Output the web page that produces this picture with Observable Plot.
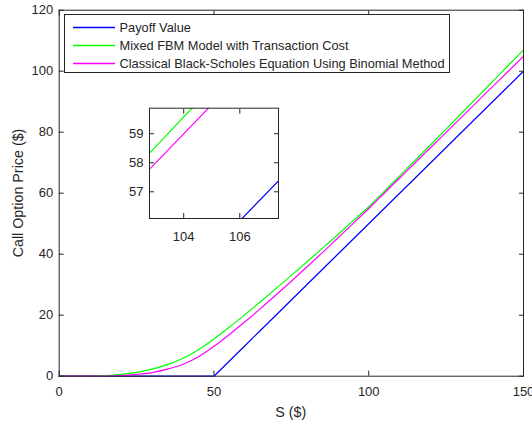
<!DOCTYPE html>
<html><head><meta charset="utf-8">
<script src="https://cdn.jsdelivr.net/npm/d3@7"></script>
<script src="https://cdn.jsdelivr.net/npm/@observablehq/plot@0.6"></script>
<style>
body{margin:0;background:#fff;}
#wrap{position:relative;width:532px;height:425px;font-family:"Liberation Sans",Arial,sans-serif;color:#262626;overflow:hidden;}
#wrap > svg{position:absolute;overflow:visible;}
#legend{position:absolute;left:63.5px;top:14px;width:386px;height:59px;border:1px solid #262626;background:#fff;box-sizing:border-box;font-size:12.8px;}
.row{position:absolute;left:0;height:18px;display:flex;align-items:center;white-space:nowrap;}
.sw{display:block;width:42px;height:3px;margin-left:8px;margin-right:5px;}
.axlabel{position:absolute;font-size:14.3px;line-height:16px;height:16px;text-align:center;white-space:nowrap;}
</style></head><body><div id="wrap"></div>
<script>
// Stock price grid ($)
const S = [0,5,10,15,20,25,30,35,40,45,50,55,60,65,70,75,80,85,90,95,100,105,110,115,120,125,130,135,140,145,150];
// Payoff value max(S-K,0), K = 50
const payoff = [0,0,0,0,0,0,0,0,0,0,0,5,10,15,20,25,30,35,40,45,50,55,60,65,70,75,80,85,90,95,100];
// Mixed FBM model with transaction cost
const mixedFBM = [0,0,0.05,0.2,0.6,1.25,2.3,3.8,5.9,8.7,12.2,16.1,20.2,24.4,28.7,33.05,37.45,41.9,46.4,50.95,55.55,60.6,65.7,70.8,75.9,81.0,86.2,91.4,96.6,101.8,107.0];
// Classical Black-Scholes via binomial method
const blackScholes = [0,0,0,0.05,0.22,0.6,1.2,2.3,3.9,6.4,9.8,13.7,17.85,22.15,26.6,31.15,35.8,40.5,45.3,50.1,55.0,60.0,65.0,70.0,75.0,79.95,84.95,89.95,94.95,99.9,104.9];
const seriesNames = ["Payoff Value","Mixed FBM Model with Transaction Cost","Classical Black-Scholes Equation Using Binomial Method"];
const seriesValues = [payoff, mixedFBM, blackScholes];
const xTicks = [0,50,100,150];
const yTicks = [0,20,40,60,80,100,120];
const insetXTicks = [104,106];
const insetYTicks = [57,58,59];
const xLabel = "S ($)";
const yLabel = "Call Option Price ($)";

const colors = ["#0000ff","#00ff00","#ff00ff"];
const curves = ["linear","monotone-x","monotone-x"];
const ink = "#262626";
const font = "'Liberation Sans', Arial, sans-serif";
const fmt = d3.format("d");
const series = seriesNames.map((name,i)=>S.map((s,j)=>({S:s, price:seriesValues[i][j], name})));

function lineMarks(clip){
  return series.map((d,i)=>Plot.line(d,{x:"S",y:"price",stroke:colors[i],strokeWidth:1.2,curve:curves[i],clip}));
}
function tickAxes(xt, yt){
  const blank = () => "";
  return [
    Plot.axisX({ticks:xt, tickSize:-5, tickFormat:blank, label:null, stroke:ink}),
    Plot.axisX({anchor:"top", ticks:xt, tickSize:-5, tickFormat:blank, label:null, stroke:ink}),
    Plot.axisY({ticks:yt, tickSize:-5, tickFormat:blank, label:null, stroke:ink}),
    Plot.axisY({anchor:"right", ticks:yt, tickSize:-5, tickFormat:blank, label:null, stroke:ink})
  ];
}

const main = Plot.plot({
  width:532, height:425,
  marginLeft:58.7, marginRight:9, marginTop:9.7, marginBottom:49.3,
  style:{fontFamily:font, fontSize:"13px", color:ink, background:"transparent"},
  x:{domain:[0,150]},
  y:{domain:[0,120]},
  marks:[
    ...lineMarks(false),
    Plot.axisX({ticks:xTicks, tickSize:0, tickPadding:11, tickFormat:fmt, label:null}),
    Plot.axisY({ticks:yTicks, tickSize:0, tickPadding:6, tickFormat:fmt, label:null}),
    ...tickAxes(xTicks, yTicks),
    Plot.frame({stroke:ink, strokeWidth:1})
  ]
});
main.style.left="0px"; main.style.top="0px";

const inset = Plot.plot({
  width:174, height:151,
  marginLeft:40, marginRight:5, marginTop:10.7, marginBottom:30,
  style:{fontFamily:font, fontSize:"13px", color:ink, background:"transparent"},
  x:{domain:[102.78,107.38]},
  y:{domain:[56.08,59.88]},
  marks:[
    Plot.frame({fill:"white"}),
    ...lineMarks(true),
    Plot.axisX({ticks:insetXTicks, tickSize:0, tickPadding:13, tickFormat:fmt, label:null}),
    Plot.axisY({ticks:insetYTicks, tickSize:0, tickPadding:6, tickFormat:fmt, label:null}),
    ...tickAxes(insetXTicks, insetYTicks),
    Plot.frame({stroke:ink, strokeWidth:1})
  ]
});
inset.style.left="109px"; inset.style.top="97px";

const wrap = document.getElementById("wrap");
wrap.appendChild(main);
wrap.appendChild(inset);

const xl = document.createElement("div");
xl.className = "axlabel"; xl.textContent = xLabel;
xl.style.left = "58.7px"; xl.style.width = "464.3px"; xl.style.top = "404px";
wrap.appendChild(xl);
const yl = document.createElement("div");
yl.className = "axlabel"; yl.textContent = yLabel;
yl.style.left = (17.5-150) + "px"; yl.style.width = "300px"; yl.style.top = (192.7-8) + "px";
yl.style.transform = "rotate(-90deg)";
wrap.appendChild(yl);

const NS = "http://www.w3.org/2000/svg";
const legend = document.createElement("div");
legend.id = "legend";
seriesNames.forEach((name,i)=>{
  const row = document.createElement("div");
  row.className = "row";
  row.style.top = (3 + i*18) + "px";
  const sw = document.createElementNS(NS, "svg");
  sw.setAttribute("class", "sw");
  sw.setAttribute("width", "42"); sw.setAttribute("height", "3");
  const ln = document.createElementNS(NS, "line");
  ln.setAttribute("x1", "0"); ln.setAttribute("x2", "42");
  ln.setAttribute("y1", "1.5"); ln.setAttribute("y2", "1.5");
  ln.setAttribute("stroke", colors[i]); ln.setAttribute("stroke-width", "1.3");
  sw.appendChild(ln);
  const tx = document.createElement("span");
  tx.textContent = name;
  row.appendChild(sw); row.appendChild(tx);
  legend.appendChild(row);
});
wrap.appendChild(legend);
</script>
</body></html>
